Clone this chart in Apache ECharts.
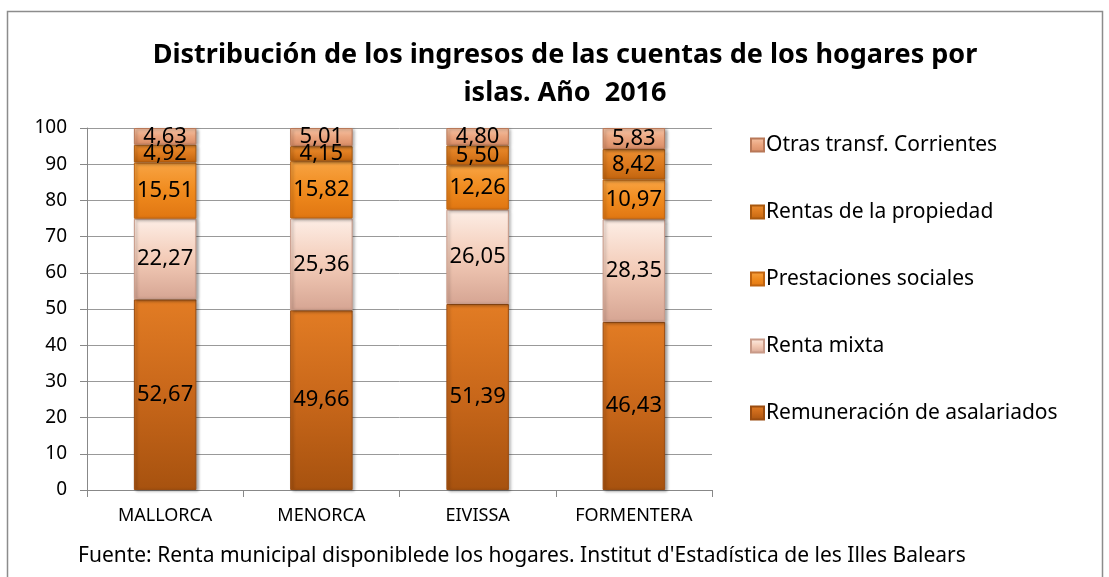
<!DOCTYPE html>
<html>
<head>
<meta charset="utf-8">
<script src="https://cdn.jsdelivr.net/npm/echarts@6/dist/echarts.min.js"></script>
<style>
	html, body { margin: 0; padding: 0; background: #fff; }
	#chart { width: 1109px; height: 577px; }
</style>
</head>
<body>
<div id="chart"></div>
<script>
// islas
var categories = ['MALLORCA', 'MENORCA', 'EIVISSA', 'FORMENTERA'];
// series (de abajo a arriba)
var remuneracion = [52.67, 49.66, 51.39, 46.43];
var rentaMixta = [22.27, 25.36, 26.05, 28.35];
var prestaciones = [15.51, 15.82, 12.26, 10.97];
var rentasPropiedad = [4.92, 4.15, 5.50, 8.42];
var otrasTransf = [4.63, 5.01, 4.80, 5.83];
var yTicks = [0, 10, 20, 30, 40, 50, 60, 70, 80, 90, 100];

var fontFam = '"Noto Sans", "Open Sans", sans-serif';

// degradado vertical (aprox. del biselado de Excel)
function grad(top, mid, bottom) {
	return new echarts.graphic.LinearGradient(0, 0, 0, 1, [
		{ offset: 0, color: top },
		{ offset: 0.5, color: mid },
		{ offset: 1, color: bottom }
	]);
}

function serie(name, data, top, mid, bottom, border) {
	return {
		name: name,
		type: 'bar',
		stack: 'total',
		barWidth: '40%',
		data: data,
		itemStyle: {
			color: grad(top, mid, bottom),
			borderColor: border,
			borderWidth: 1,
			shadowColor: 'rgba(0,0,0,0.35)',
			shadowBlur: 3,
			shadowOffsetX: 2,
			shadowOffsetY: 1
		},
		label: {
			show: true,
			position: 'inside',
			color: '#000',
			fontFamily: fontFam,
			fontSize: 22,
			formatter: function (p) {
				return p.value.toFixed(2).replace('.', ',');
			}
		}
	};
}

var myChart = echarts.init(document.getElementById('chart'));
var option = {
	animation: false,
	title: {
		text: 'Distribución de los ingresos de las cuentas de los hogares por\nislas. Año  2016',
		left: 560,
		top: 31,
		textAlign: 'center',
		textStyle: {
			fontFamily: fontFam,
			fontWeight: 'bold',
			fontSize: 27,
			lineHeight: 38,
			color: '#000'
		}
	},
	grid: {
		left: 87,
		right: 397,
		top: 128,
		bottom: 87
	},
	legend: {
		orient: 'vertical',
		left: 745,
		top: 128,
		itemWidth: 13,
		itemHeight: 13,
		itemGap: 43,
		icon: 'rect',
		data: ['Otras transf. Corrientes', 'Rentas de la propiedad', 'Prestaciones sociales', 'Renta mixta', 'Remuneración de asalariados'],
		textStyle: {
			fontFamily: fontFam,
			fontSize: 21,
			lineHeight: 24,
			color: '#000',
			padding: [0, 0, 0, -3]
		}
	},
	xAxis: {
		type: 'category',
		data: categories,
		axisLine: { lineStyle: { color: '#888' } },
		axisTick: { show: true, length: 7, lineStyle: { color: '#888' } },
		axisLabel: {
			fontFamily: fontFam,
			fontSize: 18,
			color: '#000',
			margin: 17
		}
	},
	yAxis: {
		type: 'value',
		min: yTicks[0],
		max: yTicks[yTicks.length - 1],
		interval: 10,
		axisLine: { show: true, lineStyle: { color: '#888' } },
		axisTick: { show: true, length: 7, lineStyle: { color: '#888' } },
		splitLine: { lineStyle: { color: '#999', width: 1 } },
		axisLabel: {
			fontFamily: fontFam,
			fontSize: 19,
			color: '#000',
			margin: 20
		}
	},
	graphic: [
		{
			type: 'rect',
			shape: { x: 7.5, y: 11.5, width: 1095, height: 580 },
			style: { fill: 'none', stroke: '#8c8c8c', lineWidth: 1.5 },
			z: -1
		},
		{
			type: 'text',
			left: 78,
			top: 546,
			style: {
				text: "Fuente: Renta municipal disponiblede los hogares. Institut d'Estadística de les Illes Balears",
				fontFamily: fontFam,
				fontSize: 21,
				fill: '#000'
			}
		}
	],
	series: [
		serie('Remuneración de asalariados', remuneracion, '#e27c24', '#c8671a', '#a7520f', '#9a4c10'),
		serie('Renta mixta', rentaMixta, '#fdeee6', '#f3cbb7', '#d6a593', '#c89a88'),
		serie('Prestaciones sociales', prestaciones, '#f8a444', '#f08b1e', '#e07612', '#c06410'),
		serie('Rentas de la propiedad', rentasPropiedad, '#ec8e30', '#dc7a1e', '#c2640e', '#a8580e'),
		serie('Otras transf. Corrientes', otrasTransf, '#f6c4a6', '#eaa47e', '#d88c66', '#b87858')
	]
};
myChart.setOption(option);
</script>
</body>
</html>
